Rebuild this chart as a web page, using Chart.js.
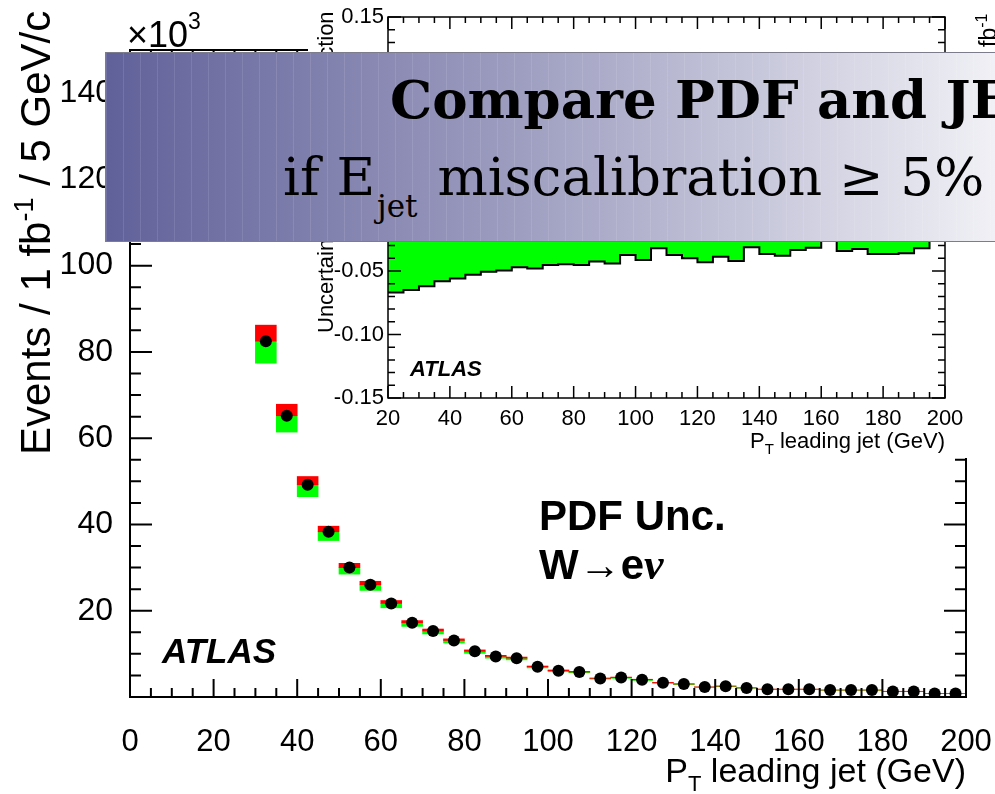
<!DOCTYPE html>
<html>
<head>
<meta charset="utf-8">
<script src="https://cdn.jsdelivr.net/npm/chart.js@4.4.1/dist/chart.umd.min.js"></script>
<style>
  html, body { margin: 0; padding: 0; overflow: hidden; background: #fff; }
  #wrap { position: relative; width: 995px; height: 794px; overflow: hidden; background: #fff; }
  #mainChart { position: absolute; left: 0; top: 0; }
  #insetChart { position: absolute; left: 308px; top: 0; }
  #banner {
    position: absolute; left: 105px; top: 52px; width: 910px; height: 188px;
    border: 1px solid #7c7c8c;
    background-image:
      repeating-linear-gradient(to right, rgba(255,255,255,0.10) 0 1px, transparent 1px 17px),
      linear-gradient(to right, #61619a 0%, #9d9dc0 45%, #f4f4f8 100%);
  }
  .btxt { position: absolute; white-space: nowrap; color: #000; font-family: 'DejaVu Serif', serif; }
  #line1 { left: 390px; top: 73px; font-size: 53px; line-height: 53px; font-weight: bold; }
  #line2 { left: 283px; top: 150px; font-size: 53px; line-height: 53px; }
  #line2 sub { font-size: 31px; vertical-align: -22px; line-height: 0; padding-left: 2px; padding-right: 3px; }
</style>
</head>
<body>
<div id="wrap">
  <canvas id="mainChart" width="995" height="794"></canvas>
  <canvas id="insetChart" width="687" height="458"></canvas>
  <div id="banner"></div>
  <div class="btxt" id="line1">Compare PDF and JES</div>
  <div class="btxt" id="line2">if E<sub>jet</sub> miscalibration ≥ 5%</div>
</div>
<script>
// main plot: events per 5 GeV bin (x10^3)
const mainX = [32.5, 37.5, 42.5, 47.5, 52.5, 57.5, 62.5, 67.5, 72.5, 77.5, 82.5, 87.5,
  92.5, 97.5, 102.5, 107.5, 112.5, 117.5, 122.5, 127.5, 132.5, 137.5, 142.5, 147.5,
  152.5, 157.5, 162.5, 167.5, 172.5, 177.5, 182.5, 187.5, 192.5, 197.5];
const mainY = [82.5, 65.2, 49.2, 38.3, 30.0, 26.0, 21.7, 17.2, 15.3, 13.1, 10.6, 9.4,
  9.0, 7.0, 6.1, 5.8, 4.3, 4.5, 4.0, 3.3, 3.0, 2.3, 2.5, 2.1,
  1.8, 1.8, 1.8, 1.6, 1.6, 1.6, 1.3, 1.3, 0.8, 0.8];

// inset: relative uncertainty per bin (lower bin edges)
const binEdges = [20, 25, 30, 35, 40, 45, 50, 55, 60, 65, 70, 75, 80, 85, 90, 95, 100,
  105, 110, 115, 120, 125, 130, 135, 140, 145, 150, 155, 160, 165, 170, 175, 180, 185, 190];
const uncDown = [-0.067, -0.065, -0.062, -0.058, -0.056, -0.053, -0.0505, -0.0497, -0.047, -0.048,
  -0.0453, -0.0447, -0.0453, -0.0426, -0.044, -0.0374, -0.0413, -0.0321, -0.0374, -0.040,
  -0.0432, -0.0387, -0.0421, -0.0313, -0.0366, -0.0379, -0.0334, -0.0316, -0.025, -0.0342,
  -0.0326, -0.0366, -0.0366, -0.036, -0.0321];
const uncUp = [0.048, 0.047, 0.045, 0.041, 0.039, 0.034, 0.033, 0.032, 0.031, 0.030,
  0.030, 0.029, 0.030, 0.028, 0.029, 0.026, 0.028, 0.024, 0.026, 0.027,
  0.029, 0.026, 0.028, 0.023, 0.025, 0.026, 0.024, 0.023, 0.020, 0.024,
  0.023, 0.025, 0.025, 0.025, 0.023];

const mainXTicks = [0, 20, 40, 60, 80, 100, 120, 140, 160, 180, 200];
const mainYTicks = [0, 20, 40, 60, 80, 100, 120, 140];
const insetXTicks = [20, 40, 60, 80, 100, 120, 140, 160, 180, 200];
const insetYTicks = [-0.15, -0.10, -0.05, 0, 0.05, 0.10, 0.15];

const SANS = "'Liberation Sans', Arial, Helvetica, sans-serif";

// error boxes from the inset fractions
const upBoxes = [], downBoxes = [];
mainX.forEach((x, i) => {
  const j = binEdges.indexOf(x - 2.5);
  const up = j >= 0 ? uncUp[j] : 0;
  const dn = j >= 0 ? uncDown[j] : 0;
  upBoxes.push({ x: x, y: [mainY[i], mainY[i] * (1 + up)] });
  downBoxes.push({ x: x, y: [mainY[i] * (1 + dn), mainY[i]] });
});

function histPoints(vals) {
  const pts = binEdges.map((e, i) => ({ x: e, y: vals[i] }));
  const last = binEdges.length - 1;
  pts.push({ x: binEdges[last] + 5, y: vals[last] });
  pts.push({ x: binEdges[last] + 5, y: 0 });
  return pts;
}

function richText(ctx, parts, x, y, align) {
  let w = 0;
  parts.forEach(p => { ctx.font = p.f; p.w = ctx.measureText(p.t).width; w += p.w; });
  let cx = align === 'right' ? x - w : x;
  parts.forEach(p => { ctx.font = p.f; ctx.fillText(p.t, cx, y + (p.dy || 0)); cx += p.w; });
}

// keep edge labels from shrinking the plot area
function noPad(s) {
  s.paddingLeft = 0; s.paddingRight = 0; s.paddingTop = 0; s.paddingBottom = 0;
}

// ROOT-like frame with inward ticks on all four sides
function drawFrame(chart, o) {
  const { ctx, chartArea: a } = chart;
  const sx = chart.scales.x, sy = chart.scales.y;
  ctx.save();
  ctx.strokeStyle = '#000';
  ctx.lineWidth = o.lw;
  ctx.beginPath();
  let n = Math.round((sx.max - sx.min) / o.xStep);
  for (let k = 0; k <= n; k++) {
    const v = sx.min + k * o.xStep;
    const px = sx.getPixelForValue(v);
    const len = o.xMajor.some(m => Math.abs(m - v) < 1e-6) ? o.xMaj : o.xMin;
    ctx.moveTo(px, a.bottom); ctx.lineTo(px, a.bottom - len);
    ctx.moveTo(px, a.top); ctx.lineTo(px, a.top + len);
  }
  n = Math.round((sy.max - sy.min) / o.yStep);
  for (let k = 0; k <= n; k++) {
    const v = sy.min + k * o.yStep;
    const py = sy.getPixelForValue(v);
    const len = o.yMajor.some(m => Math.abs(m - v) < 1e-6) ? o.yMaj : o.yMin;
    ctx.moveTo(a.left, py); ctx.lineTo(a.left + len, py);
    ctx.moveTo(a.right, py); ctx.lineTo(a.right - len, py);
  }
  ctx.stroke();
  ctx.lineWidth = o.lw;
  ctx.strokeRect(a.left, a.top, a.right - a.left, a.bottom - a.top);
  ctx.restore();
}

const mainDecor = {
  id: 'mainDecor',
  afterDatasetsDraw(chart) {
    drawFrame(chart, { lw: 2, xStep: 5, yStep: 5, xMajor: mainXTicks, yMajor: mainYTicks,
      xMaj: 18, xMin: 9, yMaj: 22, yMin: 11 });
  },
  afterDraw(chart) {
    const ctx = chart.ctx;
    ctx.save();
    ctx.fillStyle = '#000';
    ctx.textBaseline = 'alphabetic';
    ctx.textAlign = 'left';
    richText(ctx, [{ t: '×10', f: `36px ${SANS}` }, { t: '3', f: `23px ${SANS}`, dy: -18 }], 127, 47);
    richText(ctx, [{ t: 'P', f: `34px ${SANS}` }, { t: 'T', f: `22px ${SANS}`, dy: 9 },
      { t: ' leading jet (GeV)', f: `34px ${SANS}` }], 966, 782, 'right');
    ctx.save();
    ctx.translate(50, 455);
    ctx.rotate(-Math.PI / 2);
    richText(ctx, [{ t: 'Events / 1 fb', f: `42px ${SANS}` }, { t: '-1', f: `27px ${SANS}`, dy: -17 },
      { t: ' / 5 GeV/c', f: `42px ${SANS}` }], 0, 0);
    ctx.restore();
    ctx.font = `italic bold 35px ${SANS}`;
    ctx.fillText('ATLAS', 162, 663);
    ctx.font = `bold 42px ${SANS}`;
    ctx.fillText('PDF Unc.', 539, 530);
    richText(ctx, [{ t: 'W→e', f: `bold 42px ${SANS}` }, { t: 'ν', f: `italic bold 44px 'Liberation Serif', serif` }], 539, 579);
    ctx.restore();
  }
};

const insetDecor = {
  id: 'insetDecor',
  beforeDraw(chart) {
    const ctx = chart.ctx;
    ctx.save();
    ctx.fillStyle = '#fff';
    ctx.fillRect(0, 0, chart.width, chart.height);
    ctx.restore();
  },
  afterDatasetsDraw(chart) {
    drawFrame(chart, { lw: 1.5, xStep: 5, yStep: 0.01, xMajor: insetXTicks, yMajor: insetYTicks,
      xMaj: 12, xMin: 6, yMaj: 13, yMin: 7 });
  },
  afterDraw(chart) {
    const ctx = chart.ctx;
    ctx.save();
    ctx.fillStyle = '#000';
    ctx.textBaseline = 'alphabetic';
    ctx.textAlign = 'left';
    richText(ctx, [{ t: 'P', f: `22px ${SANS}` }, { t: 'T', f: `15px ${SANS}`, dy: 6 },
      { t: ' leading jet (GeV)', f: `22px ${SANS}` }], 637, 448, 'right');
    ctx.font = `italic bold 22px ${SANS}`;
    ctx.fillText('ATLAS', 102, 376);
    ctx.save();
    ctx.translate(25, 333);
    ctx.rotate(-Math.PI / 2);
    ctx.font = `22px ${SANS}`;
    ctx.fillText('Uncertainty on the Cross Section', 0, 0);
    ctx.restore();
    ctx.save();
    ctx.translate(688, 47);
    ctx.rotate(-Math.PI / 2);
    richText(ctx, [{ t: 'fb', f: `23px ${SANS}` }, { t: '-1', f: `16px ${SANS}`, dy: -9 }], 0, 0);
    ctx.restore();
    ctx.restore();
  }
};

new Chart(document.getElementById('mainChart'), {
  type: 'bar',
  data: {
    datasets: [
      { type: 'scatter', data: mainX.map((x, i) => ({ x: x, y: mainY[i] })),
        backgroundColor: '#000', borderColor: '#000', pointRadius: 6, borderWidth: 0, order: 0 },
      { type: 'bar', data: upBoxes, backgroundColor: '#ff0000', borderWidth: 0,
        grouped: false, barPercentage: 1, categoryPercentage: 1, order: 1 },
      { type: 'bar', data: downBoxes, backgroundColor: '#00ff00', borderWidth: 0,
        grouped: false, barPercentage: 1, categoryPercentage: 1, order: 1 }
    ]
  },
  options: {
    responsive: false,
    animation: false,
    events: [],
    layout: { padding: { left: 0, right: 29, top: 50, bottom: 0 } },
    plugins: { legend: { display: false }, tooltip: { enabled: false } },
    scales: {
      x: {
        type: 'linear', min: 0, max: 200, offset: false,
        grid: { display: false, drawTicks: false }, border: { display: false },
        afterBuildTicks: s => { s.ticks = mainXTicks.map(v => ({ value: v })); },
        afterFit: s => { s.height = 97; noPad(s); },
        ticks: { font: { family: SANS, size: 31 }, color: '#000', padding: 27, autoSkip: false, maxRotation: 0 }
      },
      y: {
        type: 'linear', min: 0, max: 150,
        grid: { display: false, drawTicks: false }, border: { display: false },
        afterBuildTicks: s => { s.ticks = mainYTicks.map(v => ({ value: v })); },
        afterFit: s => { s.width = 130; noPad(s); },
        ticks: { font: { family: SANS, size: 32 }, color: '#000', padding: 17,
          callback: v => (v === 0 ? '' : String(v)) }
      }
    }
  },
  plugins: [mainDecor]
});

new Chart(document.getElementById('insetChart'), {
  type: 'line',
  data: {
    datasets: [
      { data: histPoints(uncUp), stepped: 'before', fill: 'origin', backgroundColor: '#ff0000',
        borderColor: '#000', borderWidth: 2, pointRadius: 0 },
      { data: histPoints(uncDown), stepped: 'before', fill: 'origin', backgroundColor: '#00ff00',
        borderColor: '#000', borderWidth: 2, pointRadius: 0 }
    ]
  },
  options: {
    responsive: false,
    animation: false,
    events: [],
    layout: { padding: { left: 0, right: 50, top: 17, bottom: 0 } },
    plugins: { legend: { display: false }, tooltip: { enabled: false } },
    scales: {
      x: {
        type: 'linear', min: 20, max: 200,
        grid: { display: false, drawTicks: false }, border: { display: false },
        afterBuildTicks: s => { s.ticks = insetXTicks.map(v => ({ value: v })); },
        afterFit: s => { s.height = 60; noPad(s); },
        ticks: { font: { family: SANS, size: 22 }, color: '#000', padding: 8, autoSkip: false, maxRotation: 0 }
      },
      y: {
        type: 'linear', min: -0.15, max: 0.15,
        grid: { display: false, drawTicks: false }, border: { display: false },
        afterBuildTicks: s => { s.ticks = insetYTicks.map(v => ({ value: v })); },
        afterFit: s => { s.width = 80; noPad(s); },
        ticks: { font: { family: SANS, size: 22 }, color: '#000', padding: 4,
          callback: v => (Math.abs(v) < 1e-9 ? '0' : v.toFixed(2)) }
      }
    }
  },
  plugins: [insetDecor]
});
</script>
</body>
</html>
